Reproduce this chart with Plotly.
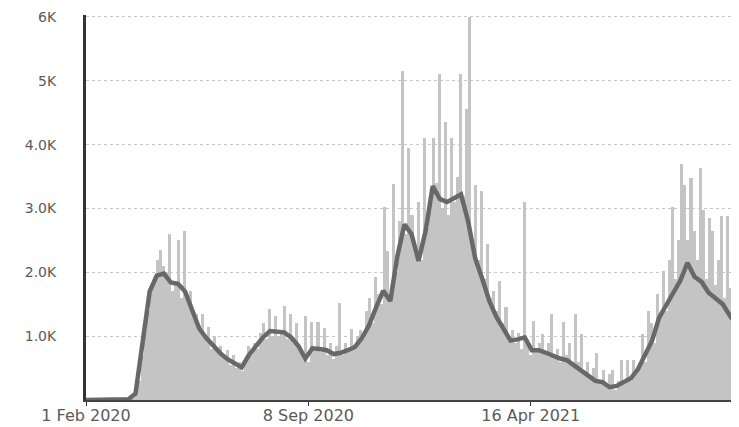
import pandas as pd
import plotly.graph_objects as go

# Daily cases, sampled every 3 days (thousands), starting 1 Feb 2020
bar_start = "2020-02-01"
bar_k = [
    0, 0, 0, 0, 0, 0, 0,
    0, 0, 0, 0, 0, 0, 0,
    0, 0.02, 0.1, 0.3, 0.7, 1.1, 1.4,
    1.8, 1.9, 2.2, 2.35, 2.1, 2.0, 2.6,
    1.7, 1.85, 2.5, 1.6, 2.65, 1.55, 1.7,
    1.3, 1.35, 1.1, 1.35, 0.95, 1.15, 0.8,
    1.0, 0.75, 0.85, 0.7, 0.78, 0.55, 0.7,
    0.5, 0.6, 0.45, 0.6, 0.85, 0.7, 0.9,
    0.8, 1.05, 1.2, 0.95, 1.43, 1.0, 1.32,
    1.0, 1.1, 1.48, 0.95, 1.35, 0.9, 1.2,
    0.85, 0.7, 1.32, 0.6, 1.22, 0.8, 1.22,
    0.75, 1.13, 0.7, 0.9, 0.65, 0.85, 1.52,
    0.7, 0.9, 0.75, 1.12, 0.85, 1.0, 1.1,
    0.95, 1.4, 1.6, 1.2, 1.92, 1.66, 1.5,
    3.03, 2.33, 1.6, 3.39, 2.0, 2.8, 5.16,
    2.6, 3.94, 2.9, 2.3, 3.1, 2.2, 4.1,
    2.7, 3.2, 4.1, 3.4, 5.1, 3.0, 4.35,
    2.9, 4.1, 3.1, 3.5, 5.1, 3.2, 4.56,
    6.0, 2.4, 3.37, 2.2, 3.27, 1.9, 2.44,
    1.6, 1.7, 1.4, 1.87, 1.2, 1.45, 1.0,
    1.1, 0.9, 1.05, 0.8, 3.1, 0.9, 0.7,
    1.24, 0.75, 0.9, 1.04, 0.7, 0.9, 1.35,
    0.7, 0.8, 0.6, 1.22, 0.7, 0.9, 0.55,
    1.35, 0.6, 1.04, 0.45, 0.6, 0.35, 0.5,
    0.73, 0.3, 0.47, 0.25, 0.4, 0.47, 0.15,
    0.3, 0.62, 0.25, 0.62, 0.3, 0.62, 0.4,
    0.55, 1.04, 0.6, 1.4, 1.2, 0.9, 1.66,
    1.3, 2.02, 1.4, 2.2, 3.03, 1.9, 2.5,
    3.7, 3.37, 2.5, 3.47, 2.65, 2.2, 3.63,
    2.98, 1.9, 2.85, 2.65, 1.8, 2.2, 2.88,
    1.6, 2.88, 1.76, 1.4, 1.97, 1.3,
]

# 7-day average, weekly samples (thousands), starting 1 Feb 2020
avg_start = "2020-02-01"
avg_k = [
    0, 0, 0, 0, 0, 0, 0.01, 0.1, 0.93, 1.7,
    1.95, 1.98, 1.84, 1.82, 1.7, 1.4, 1.12, 0.97, 0.85, 0.73,
    0.64, 0.57, 0.51, 0.7, 0.85, 0.98, 1.08, 1.07, 1.06, 0.98,
    0.85, 0.65, 0.81, 0.8, 0.78, 0.72, 0.74, 0.78, 0.83, 0.97,
    1.17, 1.45, 1.71, 1.55, 2.25, 2.75, 2.6, 2.18, 2.65, 3.35,
    3.15, 3.1, 3.17, 3.22, 2.8, 2.22, 1.9, 1.55, 1.3, 1.1,
    0.93, 0.95, 0.98, 0.78, 0.78, 0.74, 0.69, 0.65, 0.62, 0.54,
    0.44, 0.37, 0.3, 0.28, 0.2, 0.22, 0.28, 0.34, 0.48, 0.7,
    0.93, 1.29, 1.5, 1.68, 1.87, 2.15, 1.93, 1.85, 1.68, 1.6,
    1.5, 1.32, 1.17,
]

y_tick_vals = [1000, 2000, 3000, 4000, 5000, 6000]
y_tick_text = ["1.0K", "2.0K", "3.0K", "4.0K", "5K", "6K"]
x_tick_vals = ["2020-02-01", "2020-09-08", "2021-04-16"]
x_tick_text = ["1 Feb 2020", "8 Sep 2020", "16 Apr 2021"]

bar_x = pd.date_range(bar_start, periods=len(bar_k), freq="3D")
avg_x = pd.date_range(avg_start, periods=len(avg_k), freq="7D")
DAY_MS = 86400000

fig = go.Figure()
fig.add_trace(go.Bar(
    x=bar_x, y=[v * 1000 for v in bar_k],
    width=3 * DAY_MS, offset=0,
    marker=dict(color="#c4c4c4", line=dict(width=0)),
    showlegend=False, hoverinfo="skip",
))
fig.add_trace(go.Scatter(
    x=avg_x, y=[v * 1000 for v in avg_k],
    mode="lines", line=dict(color="#686868", width=4.5),
    showlegend=False,
))

# page body has an 8px margin, so the figure is sized/shifted to compensate
fig.update_layout(
    width=731, height=419,
    margin=dict(l=78, r=0, t=7, b=27, autoexpand=False),
    paper_bgcolor="white", plot_bgcolor="white",
    font=dict(family="DejaVu Sans", color="#5a5a5a"),
    bargap=0,
)
fig.update_xaxes(
    type="date", range=["2020-02-01", "2021-11-08"],
    tickvals=x_tick_vals, ticktext=x_tick_text,
    tickfont=dict(size=16, color="#5a5a5a"),
    showgrid=False, showline=True, linecolor="#444", linewidth=2,
    ticks="outside", ticklen=4, tickcolor="#333", zeroline=False,
    ticklabelstandoff=-4,
    automargin=False, ticklabeloverflow="allow",
)
fig.update_yaxes(
    range=[0, 6031],
    tickvals=y_tick_vals, ticktext=y_tick_text,
    tickfont=dict(size=14, color="#5a5a5a"),
    showgrid=True, gridcolor="#c8c8c8", griddash="dot", gridwidth=1,
    showline=True, linecolor="#333", linewidth=3,
    ticks="", ticklabelstandoff=24, zeroline=False,
    automargin=False, ticklabeloverflow="allow",
)

fig.write_html("out.html")
